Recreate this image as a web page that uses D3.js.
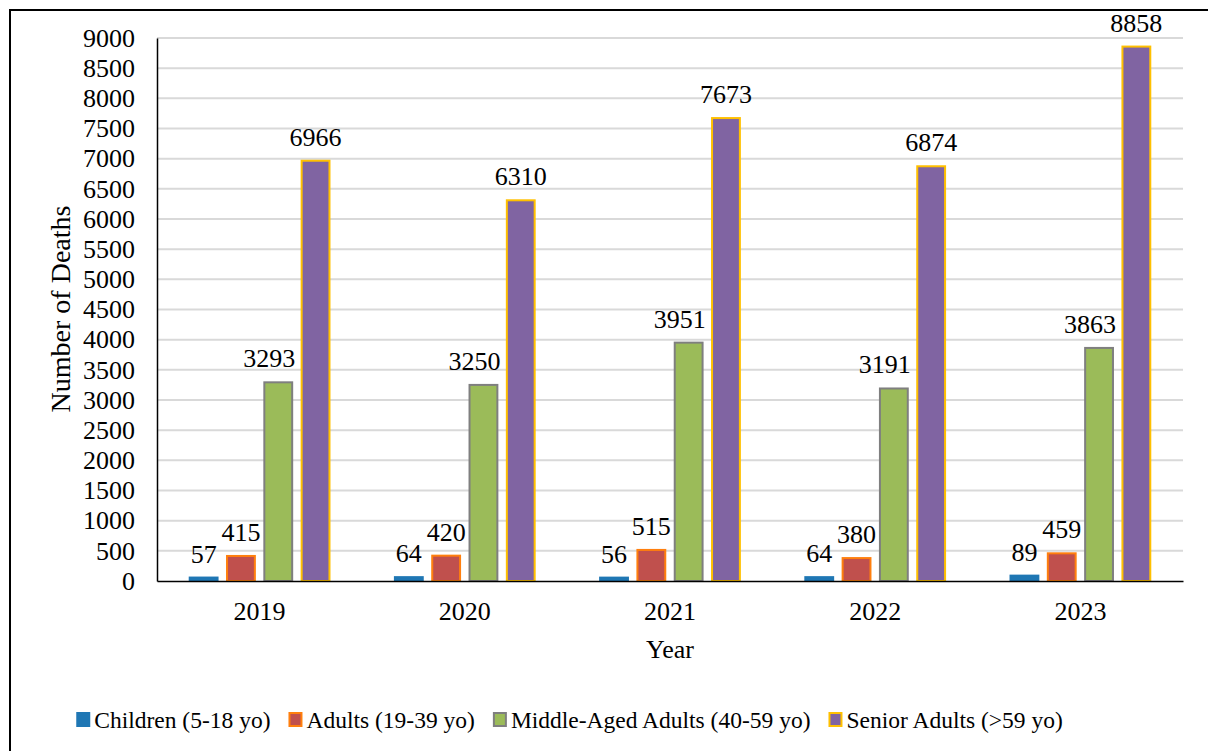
<!DOCTYPE html>
<html>
<head>
<meta charset="utf-8">
<script src="https://cdn.jsdelivr.net/npm/d3@7"></script>
<style>
  body { margin: 0; background: #fff; }
</style>
</head>
<body>
<div id="chart"></div>
<script>
// data
const years = ["2019", "2020", "2021", "2022", "2023"];
const groups = ["Children (5-18 yo)", "Adults (19-39 yo)", "Middle-Aged Adults (40-59 yo)", "Senior Adults (>59 yo)"];
const children = [57, 64, 56, 64, 89];
const adults = [415, 420, 515, 380, 459];
const middleAged = [3293, 3250, 3951, 3191, 3863];
const seniors = [6966, 6310, 7673, 6874, 8858];
const yTicks = d3.range(0, 9001, 500);

const series = [children, adults, middleAged, seniors];
const fills = ["#1f77b4", "#c0504d", "#9bbb59", "#8064a2"];
const strokes = ["#1f77b4", "#ff7f0e", "#7f7f7f", "#ffc000"];
// label shift per series (middle-aged labels sit a bit left of their bars)
const labelShift = [0, 0, -9, 0];

const FONT = "'Liberation Serif', 'DejaVu Serif', serif";
const width = 1208, height = 751;
const margin = { top: 38, right: 25, bottom: 170, left: 157 };

const svg = d3.select("#chart")
  .append("svg")
  .attr("width", width)
  .attr("height", height);

// outer frame
svg.append("rect")
  .attr("x", 10).attr("y", 10)
  .attr("width", 1400).attr("height", 1000)
  .attr("fill", "none")
  .attr("stroke", "#000")
  .attr("stroke-width", 2);

const x0 = d3.scaleBand()
  .domain(years)
  .range([margin.left, width - margin.right])
  .padding(0);

const x1 = d3.scaleBand()
  .domain(d3.range(groups.length))
  .range([0, x0.bandwidth()])
  .paddingInner(0.2)
  .paddingOuter(0.85);

const y = d3.scaleLinear()
  .domain([0, 9000])
  .range([height - margin.bottom, margin.top]);

// gridlines
svg.append("g")
  .selectAll("line")
  .data(yTicks.slice(1))
  .join("line")
  .attr("x1", margin.left)
  .attr("x2", width - margin.right)
  .attr("y1", d => y(d))
  .attr("y2", d => y(d))
  .attr("stroke", "#d9d9d9")
  .attr("stroke-width", 2);

// y axis
const yAxis = svg.append("g")
  .attr("transform", `translate(${margin.left},0)`)
  .call(d3.axisLeft(y).tickValues(yTicks).tickSize(0).tickPadding(22).tickFormat(d3.format("d")));
yAxis.attr("font-family", null).attr("font-size", null);
yAxis.select(".domain").attr("stroke", "#000").attr("stroke-width", 1.5);
yAxis.selectAll("text")
  .style("font-family", FONT)
  .style("font-size", "26px")
  .attr("fill", "#000");

// bars
const rows = years.map((yr, i) => ({ year: yr, values: series.map(s => s[i]) }));

const yearG = svg.append("g")
  .selectAll("g")
  .data(rows)
  .join("g")
  .attr("transform", d => `translate(${x0(d.year)},0)`);

yearG.selectAll("rect")
  .data(d => d.values.map((v, k) => ({ k, v })))
  .join("rect")
  .attr("x", d => x1(d.k) + 1)
  .attr("width", x1.bandwidth() - 2)
  .attr("y", d => y(d.v))
  .attr("height", d => y(0) - y(d.v))
  .attr("fill", d => fills[d.k])
  .attr("stroke", d => strokes[d.k])
  .attr("stroke-width", 2);

yearG.selectAll("text")
  .data(d => d.values.map((v, k) => ({ k, v })))
  .join("text")
  .attr("x", d => x1(d.k) + x1.bandwidth() / 2 + labelShift[d.k])
  .attr("y", d => y(d.v) - 15)
  .attr("text-anchor", "middle")
  .style("font-family", FONT)
  .style("font-size", "26px")
  .text(d => d.v);

// x axis
const xAxis = svg.append("g")
  .attr("transform", `translate(0,${y(0)})`)
  .call(d3.axisBottom(x0).tickSize(0).tickPadding(21));
xAxis.attr("font-family", null).attr("font-size", null);
xAxis.select(".domain").attr("stroke", "#000").attr("stroke-width", 1.5);
xAxis.selectAll("text")
  .style("font-family", FONT)
  .style("font-size", "26px")
  .attr("fill", "#000");

// axis titles
svg.append("text")
  .attr("x", (margin.left + width - margin.right) / 2)
  .attr("y", 658)
  .attr("text-anchor", "middle")
  .style("font-family", FONT)
  .style("font-size", "26px")
  .text("Year");

svg.append("text")
  .attr("transform", "translate(70,309) rotate(-90)")
  .attr("text-anchor", "middle")
  .style("font-family", FONT)
  .style("font-size", "28px")
  .text("Number of Deaths");

// legend
const legend = svg.append("g");
const items = legend.selectAll("g")
  .data(groups)
  .join("g");
items.append("rect")
  .attr("width", 12).attr("height", 13)
  .attr("y", -15)
  .attr("fill", (d, i) => fills[i])
  .attr("stroke", (d, i) => strokes[i])
  .attr("stroke-width", 2);
items.append("text")
  .attr("x", 17)
  .style("font-family", FONT)
  .style("font-size", "23.5px")
  .text(d => d);

let cursor = 0;
const offsets = [];
items.each(function () {
  offsets.push(cursor);
  const w = d3.select(this).select("text").node().getComputedTextLength();
  cursor += 17 + w + 19;
});
const total = cursor - 19;
items.attr("transform", (d, i) => `translate(${offsets[i]},0)`);
legend.attr("transform", `translate(${570 - total / 2},728)`);
</script>
</body>
</html>
